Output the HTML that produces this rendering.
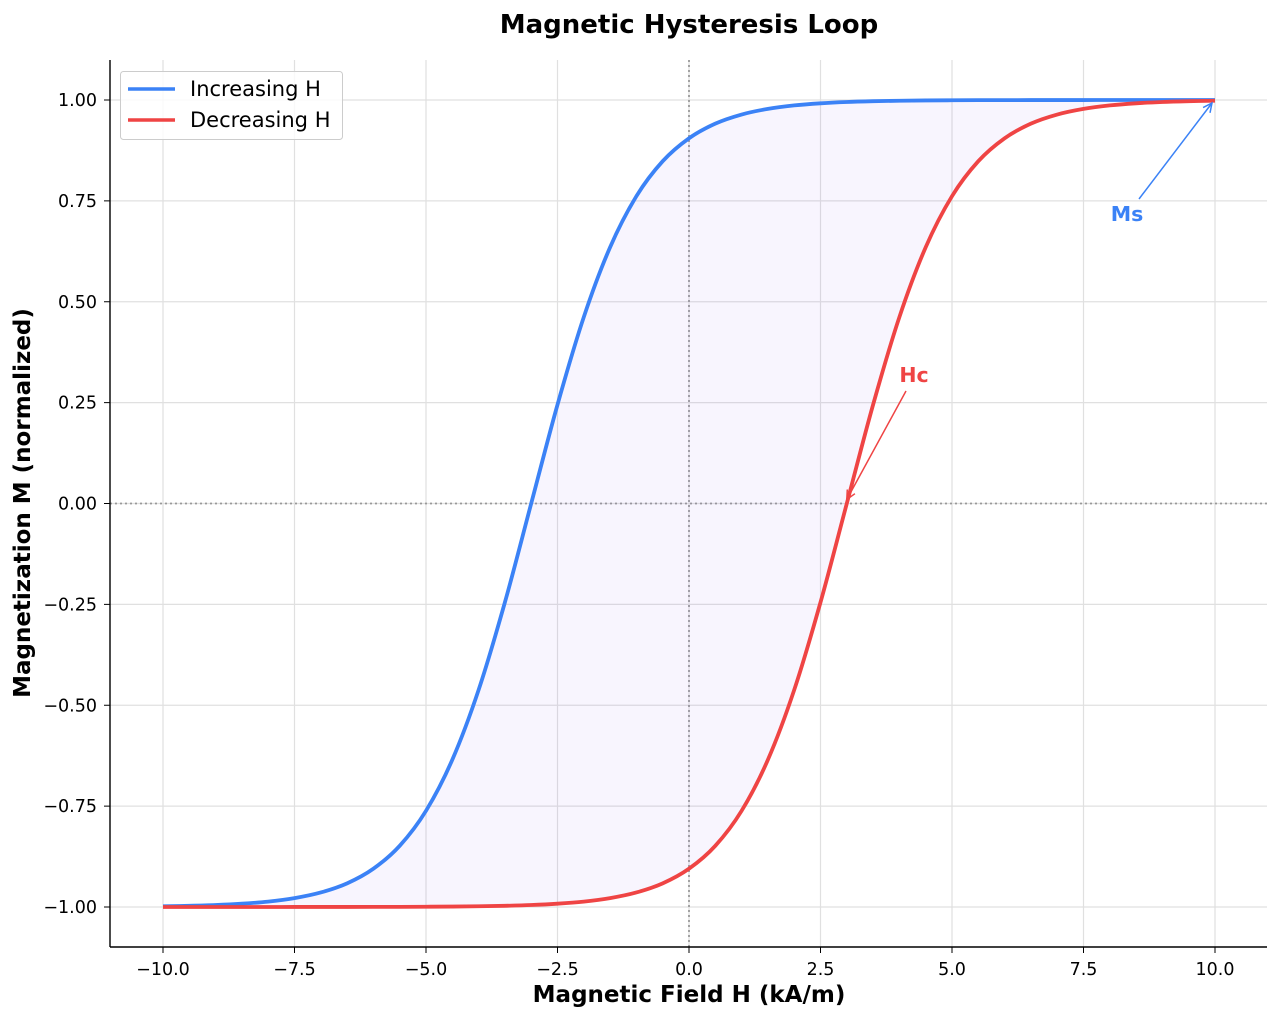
<!DOCTYPE html>
<html><head><meta charset="utf-8"><style>
body{margin:0;background:#fff;font-family:"DejaVu Sans","Liberation Sans",sans-serif}
svg text{font-family:"DejaVu Sans","Liberation Sans",sans-serif}
</style></head><body>
<svg id="chart" width="1280" height="1020" xmlns="http://www.w3.org/2000/svg">
<g id="grid"></g>
<g id="plot"></g>
<g id="axes"></g>
<text x="689" y="33" font-size="26" font-weight="bold" text-anchor="middle">Magnetic Hysteresis Loop</text>
<text x="689" y="1002" font-size="23" font-weight="bold" text-anchor="middle">Magnetic Field H (kA/m)</text>
<text transform="translate(30,503) rotate(-90)" font-size="23" font-weight="bold" text-anchor="middle">Magnetization M (normalized)</text>
<g>
<rect x="120.5" y="71.5" width="222" height="68" rx="3" fill="#fff" fill-opacity="0.8" stroke="#ccc"/>
<line x1="128" y1="89" x2="175" y2="89" stroke="#3b82f6" stroke-width="3.5"/>
<text x="190" y="96" font-size="21">Increasing H</text>
<line x1="128" y1="120" x2="175" y2="120" stroke="#ef4444" stroke-width="3.5"/>
<text x="190" y="127" font-size="21">Decreasing H</text>
</g>
</svg>
<script>
const hValues=[-10,-9.5,-9,-8.5,-8,-7.5,-7,-6.5,-6,-5.5,-5,-4.5,-4,-3.5,-3,-2.5,-2,-1.5,-1,-0.5,0,0.5,1,1.5,2,2.5,3,3.5,4,4.5,5,5.5,6,6.5,7,7.5,8,8.5,9,9.5,10];
const mIncreasing=[-0.9982,-0.9970,-0.9951,-0.9918,-0.9866,-0.9780,-0.9640,-0.9414,-0.9051,-0.8483,-0.7616,-0.6351,-0.4621,-0.2449,0,0.2449,0.4621,0.6351,0.7616,0.8483,0.9051,0.9414,0.9640,0.9780,0.9866,0.9918,0.9951,0.9970,0.9982,0.9989,0.9993,0.9996,0.9997,0.9998,0.9999,0.9999,1,1,1,1,1];
const mDecreasing=[-1,-1,-1,-1,-1,-0.9999,-0.9999,-0.9998,-0.9997,-0.9996,-0.9993,-0.9989,-0.9982,-0.9970,-0.9951,-0.9918,-0.9866,-0.9780,-0.9640,-0.9414,-0.9051,-0.8483,-0.7616,-0.6351,-0.4621,-0.2449,0,0.2449,0.4621,0.6351,0.7616,0.8483,0.9051,0.9414,0.9640,0.9780,0.9866,0.9918,0.9951,0.9970,0.9982];
const xTicks=[-10,-7.5,-5,-2.5,0,2.5,5,7.5,10];
const xTickLabels=["−10.0","−7.5","−5.0","−2.5","0.0","2.5","5.0","7.5","10.0"];
const yTicks=[-1,-0.75,-0.5,-0.25,0,0.25,0.5,0.75,1];
const yTickLabels=["−1.00","−0.75","−0.50","−0.25","0.00","0.25","0.50","0.75","1.00"];
const NS="http://www.w3.org/2000/svg";
const L=110,R=1267,T=60,B=947;
const sx=v=>689+v*52.6;
const sy=v=>503.5-v*403.5;
function mk(tag,attrs,parent){const e=document.createElementNS(NS,tag);for(const k in attrs)e.setAttribute(k,attrs[k]);parent.appendChild(e);return e;}
const grid=document.getElementById('grid'),plot=document.getElementById('plot'),axes=document.getElementById('axes');
xTicks.forEach((t,i)=>{
 const g=mk('line',{x1:sx(t),x2:sx(t),y1:T,y2:B,stroke:'#e0e0e0','stroke-width':1.2},grid);
 
 
 mk('line',{x1:sx(t),x2:sx(t),y1:B,y2:B+6,stroke:'#000'},axes);
 const tx=mk('text',{x:sx(t),y:B+28,'font-size':17.5,'text-anchor':'middle'},axes);
 tx.textContent=xTickLabels[i];
 
 
});
yTicks.forEach((t,i)=>{
 const g=mk('line',{x1:L,x2:R,y1:sy(t),y2:sy(t),stroke:'#e0e0e0','stroke-width':1.2},grid);
 
 
 mk('line',{x1:L-6,x2:L,y1:sy(t),y2:sy(t),stroke:'#000'},axes);
 const tx=mk('text',{x:L-13,y:sy(t)+6,'font-size':17.5,'text-anchor':'end'},axes);
 tx.textContent=yTickLabels[i];
 
 
});
mk('line',{x1:L,x2:R,y1:sy(0),y2:sy(0),stroke:'#999','stroke-dasharray':'2,3','stroke-width':1.8},grid);
mk('line',{x1:sx(0),x2:sx(0),y1:T,y2:B,stroke:'#999','stroke-dasharray':'2,3','stroke-width':1.8},grid);
mk('line',{x1:L,x2:L,y1:T,y2:B,stroke:'#000','stroke-width':1.4},axes);
mk('line',{x1:L,x2:R,y1:B,y2:B,stroke:'#000','stroke-width':1.4},axes);
function smooth(pts){let d='M'+pts[0][0]+','+pts[0][1];
 for(let i=0;i<pts.length-1;i++){const p0=pts[Math.max(0,i-1)],p1=pts[i],p2=pts[i+1],p3=pts[Math.min(pts.length-1,i+2)];
 d+=' C'+(p1[0]+(p2[0]-p0[0])/6)+','+(p1[1]+(p2[1]-p0[1])/6)+' '+(p2[0]-(p3[0]-p1[0])/6)+','+(p2[1]-(p3[1]-p1[1])/6)+' '+p2[0]+','+p2[1];}
 return d;}
const inc=hValues.map((h,i)=>[sx(h),sy(mIncreasing[i])]);
const dec=hValues.map((h,i)=>[sx(h),sy(mDecreasing[i])]);
const decRev=dec.slice().reverse();
const fill=mk('path',{d:smooth(inc)+' L'+smooth(decRev).slice(1)+' Z',fill:'#8b5cf6','fill-opacity':0.06},plot);


const p1=mk('path',{d:smooth(inc),fill:'none',stroke:'#3b82f6','stroke-width':3.8},plot);


const p2=mk('path',{d:smooth(dec),fill:'none',stroke:'#ef4444','stroke-width':3.8},plot);


function arrow(x1,y1,x2,y2,c,name){
 const a=mk('line',{x1,y1,x2,y2,stroke:c,'stroke-width':1.5},plot);
 
 
 const ang=Math.atan2(y2-y1,x2-x1),s=10;
 mk('polyline',{points:(x2-s*Math.cos(ang-0.45))+','+(y2-s*Math.sin(ang-0.45))+' '+x2+','+y2+' '+(x2-s*Math.cos(ang+0.45))+','+(y2-s*Math.sin(ang+0.45)),fill:'none',stroke:c,'stroke-width':1.5},plot);
}
arrow(1139,199,sx(10)-3,sy(1)+3,'#3b82f6','ms-arrow');
arrow(906,391,sx(3),sy(0)-4,'#ef4444','hc-arrow');
const ms=mk('text',{x:1127,y:221,'font-size':20.5,'font-weight':'bold',fill:'#3b82f6','text-anchor':'middle'},plot);
ms.textContent='Ms';


const hc=mk('text',{x:914,y:382,'font-size':20.5,'font-weight':'bold',fill:'#ef4444','text-anchor':'middle'},plot);
hc.textContent='Hc';


</script>
</body></html>
